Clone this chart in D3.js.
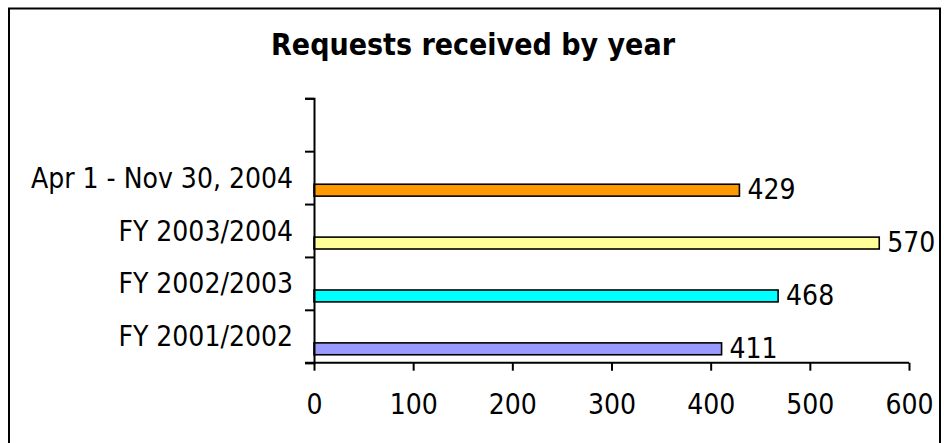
<!DOCTYPE html>
<html>
<head>
<meta charset="utf-8">
<script src="https://cdn.jsdelivr.net/npm/d3@7"></script>
<style>
  html, body { margin: 0; padding: 0; background: #fff; }
  svg { display: block; }
  text { font-family: "DejaVu Sans Condensed", "DejaVu Sans", sans-serif; fill: #000; }
</style>
</head>
<body>
<svg id="chart" width="944" height="443"></svg>
<script>
// Requests received per reporting period
const categories = ["FY 2001/2002", "FY 2002/2003", "FY 2003/2004", "Apr 1 - Nov 30, 2004"];
const requests = [411, 468, 570, 429];
const barColors = ["#9999FF", "#00FFFF", "#FFFF99", "#FF9900"];
const xTickValues = [0, 100, 200, 300, 400, 500, 600];
const chartTitle = "Requests received by year";

const svg = d3.select("#chart");
const W = 944, H = 443;
const plot = { left: 314, right: 909, top: 98.3, bottom: 362.7 };
const labelSize = 28;

// outer chart frame (runs past the bottom edge)
svg.append("rect")
  .attr("x", 9).attr("y", 8.5)
  .attr("width", 931).attr("height", 470)
  .attr("fill", "#fff")
  .attr("stroke", "#000").attr("stroke-width", 2);

// title
svg.append("text")
  .attr("x", W / 2 + 1).attr("y", 54.5)
  .attr("text-anchor", "middle")
  .attr("font-weight", "bold")
  .attr("font-size", 30)
  .text(chartTitle);

const x = d3.scaleLinear().domain([0, 600]).range([plot.left, plot.right]);
// one empty slot above the last category
const slots = [...categories, ""];
const y = d3.scaleBand().domain(slots).range([plot.bottom, plot.top]);
const yIdx = d3.scaleLinear().domain([0, slots.length]).range([plot.bottom, plot.top]);

// bars
const bw = y.bandwidth();
svg.append("g").selectAll("rect")
  .data(categories)
  .join("rect")
  .attr("x", x(0))
  .attr("y", d => y(d) + bw * 0.625)
  .attr("width", (d, i) => x(requests[i]) - x(0))
  .attr("height", bw * 0.225)
  .attr("fill", (d, i) => barColors[i])
  .attr("stroke", "#000").attr("stroke-width", 1.6);

// value labels
svg.append("g").selectAll("text")
  .data(categories)
  .join("text")
  .attr("x", (d, i) => x(requests[i]) + 8)
  .attr("y", d => y(d) + bw * 0.7375)
  .attr("dy", "0.32em")
  .attr("font-size", labelSize)
  .text((d, i) => requests[i]);

// y axis: ticks between categories
const yAxis = d3.axisLeft(yIdx)
  .tickValues(d3.range(slots.length + 1))
  .tickSize(9)
  .tickFormat("");
const gy = svg.append("g").attr("transform", `translate(${plot.left},0)`).call(yAxis);
gy.select(".domain").attr("stroke", "#000").attr("stroke-width", 2);
gy.selectAll(".tick line").attr("stroke", "#000").attr("stroke-width", 2);

// category labels
svg.append("g").selectAll("text")
  .data(categories)
  .join("text")
  .attr("x", 293)
  .attr("y", d => y(d) + bw / 2)
  .attr("dy", "0.36em")
  .attr("text-anchor", "end")
  .attr("font-size", labelSize)
  .text(d => d);

// x axis
const xAxis = d3.axisBottom(x)
  .tickValues(xTickValues)
  .tickSize(8)
  .tickPadding(23)
  .tickFormat(d3.format("d"));
const gx = svg.append("g").attr("transform", `translate(0,${plot.bottom})`).call(xAxis);
gx.select(".domain").attr("stroke", "#000").attr("stroke-width", 2).attr("d", `M${plot.left - 9},0H${plot.right}`);
gx.selectAll(".tick line").attr("stroke", "#000").attr("stroke-width", 2);
gx.selectAll(".tick text")
  .attr("font-size", labelSize)
  .attr("font-family", "DejaVu Sans Condensed, DejaVu Sans, sans-serif")
  .attr("fill", "#000");
</script>
</body>
</html>
